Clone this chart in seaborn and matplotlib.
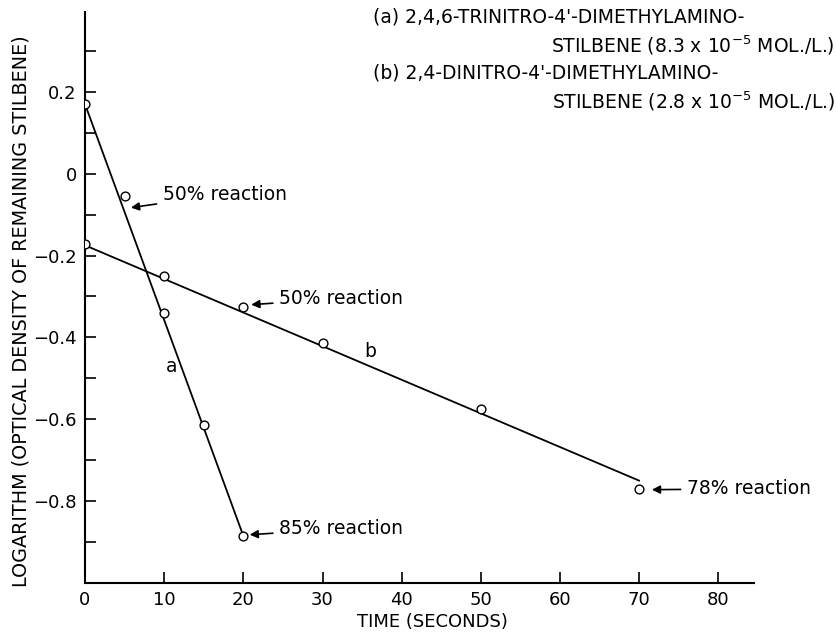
import matplotlib
matplotlib.use("Agg")
import matplotlib.pyplot as plt
import seaborn as sns
import pandas as pd
from matplotlib.ticker import FixedLocator

# ---- data ----
time_a = [0, 5, 10, 15, 20]
log_a = [0.17, -0.055, -0.34, -0.615, -0.885]
time_b = [0, 10, 20, 30, 50, 70]
log_b = [-0.172, -0.25, -0.325, -0.413, -0.575, -0.77]
fit_a_time = [0, 20]
fit_a_log = [0.17, -0.885]
fit_b_time = [0, 70]
fit_b_log = [-0.175, -0.75]
x_ticks = [0, 10, 20, 30, 40, 50, 60, 70, 80]
y_major = [-0.8, -0.6, -0.4, -0.2, 0.0, 0.2]
y_major_labels = ["\u22120.8", "\u22120.6", "\u22120.4", "\u22120.2", "0", "0.2"]
y_minor = [-0.9, -0.7, -0.5, -0.3, -0.1, 0.1, 0.3]

pts = pd.DataFrame({
    "time": time_a + time_b,
    "logod": log_a + log_b,
    "series": ["a"] * len(time_a) + ["b"] * len(time_b),
})
fits = pd.DataFrame({
    "time": fit_a_time + fit_b_time,
    "logod": fit_a_log + fit_b_log,
    "series": ["a"] * len(fit_a_time) + ["b"] * len(fit_b_time),
})

sns.set_style("ticks")
plt.rcParams["font.family"] = ["DejaVu Sans"]
plt.rcParams["text.color"] = "black"
plt.rcParams["xtick.color"] = "black"
plt.rcParams["ytick.color"] = "black"

W, H = 836, 636
fig = plt.figure(figsize=(W / 100, H / 100), dpi=100)
ax = fig.add_axes([85 / W, 1 - 583 / H, (754 - 85) / W, (583 - 12) / H])

sns.lineplot(data=fits, x="time", y="logod", units="series", estimator=None,
             color="black", linewidth=1.3, ax=ax, legend=False)
sns.scatterplot(data=pts, x="time", y="logod", marker="o", s=40,
                facecolor="white", edgecolor="black", linewidth=1.0,
                ax=ax, legend=False, zorder=5)

ax.set_xlim(0, 84.5)
ax.set_ylim(-1.0, 0.395)
ax.set_xticks(x_ticks)
ax.set_xticklabels([str(t) for t in x_ticks])
ax.yaxis.set_major_locator(FixedLocator(y_major))
ax.set_yticklabels(y_major_labels)
ax.yaxis.set_minor_locator(FixedLocator(y_minor))
ax.tick_params(axis="both", which="both", direction="in", length=8, width=1.2,
               colors="black", labelcolor="black", labelsize=13, pad=6)
sns.despine(ax=ax)
for s in ["left", "bottom"]:
    ax.spines[s].set_linewidth(1.5)
    ax.spines[s].set_color("black")
ax.set_xlabel("")
ax.set_ylabel("")

def px(x, y):
    return (x / W, 1 - y / H)

fs = 13.5
fig.text(*px(21, 311), "LOGARITHM (OPTICAL DENSITY OF REMAINING STILBENE)",
         rotation=90, ha="center", va="center", fontsize=13.8, color="black")
fig.text(*px(432, 622), "TIME (SECONDS)", ha="center", va="center",
         fontsize=13, color="black")

fig.text(*px(373, 17), "(a) 2,4,6-TRINITRO-4'-DIMETHYLAMINO-", ha="left",
         va="center", fontsize=fs, color="black")
fig.text(*px(835, 45), r"STILBENE (8.3 x 10$^{-5}$ MOL./L.)", ha="right",
         va="center", fontsize=fs, color="black")
fig.text(*px(373, 73), "(b) 2,4-DINITRO-4'-DIMETHYLAMINO-", ha="left",
         va="center", fontsize=fs, color="black")
fig.text(*px(835, 101), r"STILBENE (2.8 x 10$^{-5}$ MOL./L.)", ha="right",
         va="center", fontsize=fs, color="black")

arrow = dict(arrowstyle="-|>", color="black", lw=1.2, shrinkA=2, shrinkB=0,
             mutation_scale=12)
ax.annotate("50% reaction", xy=(5.8, -0.083), xytext=(9.8, -0.05),
            ha="left", va="center", fontsize=fs, arrowprops=arrow)
ax.annotate("50% reaction", xy=(21.0, -0.32), xytext=(24.5, -0.305),
            ha="left", va="center", fontsize=fs, arrowprops=arrow)
ax.annotate("85% reaction", xy=(20.8, -0.882), xytext=(24.5, -0.868),
            ha="left", va="center", fontsize=fs, arrowprops=arrow)
ax.annotate("78% reaction", xy=(71.6, -0.772), xytext=(76.0, -0.77),
            ha="left", va="center", fontsize=fs, arrowprops=arrow,
            annotation_clip=False)
ax.text(10.9, -0.47, "a", ha="center", va="center", fontsize=fs)
ax.text(36.0, -0.435, "b", ha="center", va="center", fontsize=fs)

fig.savefig("out.png", dpi=100)
